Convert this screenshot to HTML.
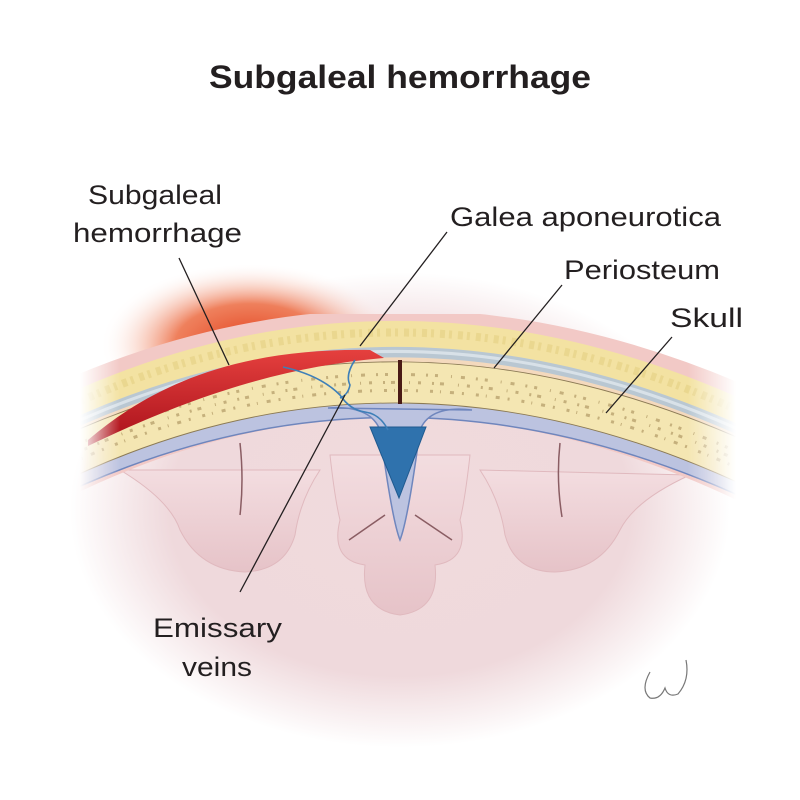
<!DOCTYPE html>
<html><head><meta charset="utf-8"><style>
html,body{margin:0;padding:0;background:#fff;}
svg{display:block}
text{font-family:"Liberation Sans Narrow","Liberation Sans",sans-serif;fill:#231f20}
</style></head><body>
<svg width="800" height="800" viewBox="0 0 800 800" xmlns="http://www.w3.org/2000/svg">
<defs>
<radialGradient id="bg" cx="400" cy="510" r="330" gradientUnits="userSpaceOnUse" gradientTransform="translate(400 510) scale(1 0.72) translate(-400 -510)">
<stop offset="0" stop-color="#f0dadd"/><stop offset="0.7" stop-color="#efd9dc"/><stop offset="1" stop-color="#fff"/>
</radialGradient>
<radialGradient id="glow" cx="250" cy="345" r="150" gradientUnits="userSpaceOnUse" gradientTransform="translate(250 345) scale(1 0.55) translate(-250 -345)">
<stop offset="0" stop-color="#e33f1c"/><stop offset="0.5" stop-color="#ec6a40" stop-opacity="0.85"/><stop offset="1" stop-color="#fff" stop-opacity="0"/>
</radialGradient>
<linearGradient id="mg" x1="0" x2="800" gradientUnits="userSpaceOnUse">
<stop offset="0.1" stop-color="#000"/><stop offset="0.15" stop-color="#fff"/><stop offset="0.86" stop-color="#fff"/><stop offset="0.92" stop-color="#000"/>
</linearGradient>
<mask id="m"><rect width="800" height="800" fill="url(#mg)"/></mask>
<linearGradient id="blood" x1="0" y1="0" x2="0" y2="1"><stop offset="0" stop-color="#e5403e"/><stop offset="1" stop-color="#a8101a"/></linearGradient>
<linearGradient id="gy" x1="0" y1="0" x2="0" y2="1"><stop offset="0" stop-color="#f3dde0"/><stop offset="1" stop-color="#e6c3c8"/></linearGradient>
</defs>
<rect width="800" height="800" fill="#fff"/>
<ellipse cx="400" cy="510" rx="330" ry="240" fill="url(#bg)"/>
<ellipse cx="250" cy="345" rx="150" ry="80" fill="url(#glow)"/>

<!-- gyri -->
<g fill="url(#gy)" stroke="#e0b9be" stroke-width="1">
<path d="M120 470 Q170 500 180 530 Q200 570 245 572 Q285 570 295 535 Q300 500 320 470 Z"/>
<path d="M480 470 Q500 500 505 535 Q515 572 555 572 Q600 570 620 530 Q635 500 690 475 Z"/>
<path d="M330 455 Q335 500 340 520 Q330 560 365 565 Q360 610 400 615 Q440 610 435 565 Q470 560 460 520 Q465 500 470 455 Z"/>
</g>
<g stroke="#8a5d63" stroke-width="1.5" fill="none">
<path d="M240 443 Q244 480 240 515"/>
<path d="M560 443 Q556 480 562 517"/>
<path d="M349 540 L385 515"/><path d="M452 540 L415 515"/>
</g>

<g mask="url(#m)">
<g fill="none">
<path d="M40 470 Q400 290 780 480" stroke="#f2c9c6" stroke-width="108" transform="translate(0,-19)"/>
<path d="M40 470 Q400 290 780 480" stroke="#f3e2a2" stroke-width="27" transform="translate(0,-48)"/>
<path d="M40 470 Q400 290 780 480" stroke="#e2cc7c" stroke-width="8" stroke-dasharray="5 4 3 6" transform="translate(0,-50)" opacity="0.5"/>
<path d="M40 470 Q400 290 780 480" stroke="#b9c7d2" stroke-width="11" transform="translate(0,-30)"/>
<path d="M40 470 Q400 290 780 480" stroke="#d8e1e8" stroke-width="3" transform="translate(0,-31)"/>
<path d="M40 470 Q400 290 780 480" stroke="#f4d9bd" stroke-width="6" transform="translate(0,-22)"/>
<path d="M40 470 Q400 290 780 480" stroke="#bcc3e0" stroke-width="16" transform="translate(0,27)"/>
<path d="M40 470 Q400 290 780 480" stroke="#6f86bd" stroke-width="1.5" transform="translate(0,35)"/>
<path d="M40 470 Q400 290 780 480" stroke="#8b7a55" stroke-width="42" />
<path d="M40 470 Q400 290 780 480" stroke="#f4e6b2" stroke-width="40" />
<path d="M40 470 Q400 290 780 480" stroke="#b9a36e" stroke-width="3" stroke-dasharray="2 7 3 13 1 9 4 11" transform="translate(0,-8)" opacity="0.8"/>
<path d="M40 470 Q400 290 780 480" stroke="#b9a36e" stroke-width="3" stroke-dasharray="3 11 2 6 4 14 1 8" opacity="0.8"/>
<path d="M40 470 Q400 290 780 480" stroke="#b9a36e" stroke-width="3" stroke-dasharray="1 9 4 8 2 12 3 7" transform="translate(0,8)" opacity="0.8"/>
</g>
<!-- hemorrhage -->
<path d="M88 440 C160 378 250 348 370 350 L384 358 C290 366 200 392 88 446 Z" fill="url(#blood)"/>
</g>
<!-- falx -->
<path d="M328 408 Q370 405 380 430 Q392 520 400 540 Q408 520 420 430 Q430 405 472 410 Z" fill="#bcc3e0" stroke="#6f86bd" stroke-width="1.5"/>
<path d="M370 427 L426 427 L399 498 Z" fill="#2f72ad" stroke="#1f5a8f"/>
<rect x="398" y="360" width="4" height="44" fill="#4a1b16"/>
<g fill="none" stroke="#3d7fb8" stroke-width="1.6">
<path d="M283 367 Q320 375 340 395 Q350 410 365 412 Q380 414 388 430"/>
<path d="M355 360 Q345 375 350 385 Q348 395 340 398"/>
</g>

<g stroke="#231f20" stroke-width="1.3">
<line x1="179" y1="258" x2="229" y2="365"/>
<line x1="447" y1="232" x2="360" y2="346"/>
<line x1="562" y1="285" x2="494" y2="368"/>
<line x1="672" y1="337" x2="606" y2="413"/>
<line x1="345" y1="395" x2="240" y2="592"/>
</g>

<text x="400" y="88" text-anchor="middle" font-size="32" font-weight="bold" textLength="382" lengthAdjust="spacingAndGlyphs">Subgaleal hemorrhage</text>
<text x="88" y="204" font-size="27" textLength="134" lengthAdjust="spacingAndGlyphs">Subgaleal</text>
<text x="73" y="242" font-size="27" textLength="169" lengthAdjust="spacingAndGlyphs">hemorrhage</text>
<text x="450" y="226" font-size="27" textLength="271" lengthAdjust="spacingAndGlyphs">Galea aponeurotica</text>
<text x="564" y="279" font-size="27" textLength="156" lengthAdjust="spacingAndGlyphs">Periosteum</text>
<text x="670" y="327" font-size="27" textLength="73" lengthAdjust="spacingAndGlyphs">Skull</text>
<text x="153" y="637" font-size="27" textLength="129" lengthAdjust="spacingAndGlyphs">Emissary</text>
<text x="182" y="676" font-size="27" textLength="70" lengthAdjust="spacingAndGlyphs">veins</text>
<path d="M650 672 Q640 690 650 698 Q660 700 665 688 Q668 698 678 694 Q690 680 686 660" fill="none" stroke="#777" stroke-width="1.2"/>
</svg>
</body></html>
